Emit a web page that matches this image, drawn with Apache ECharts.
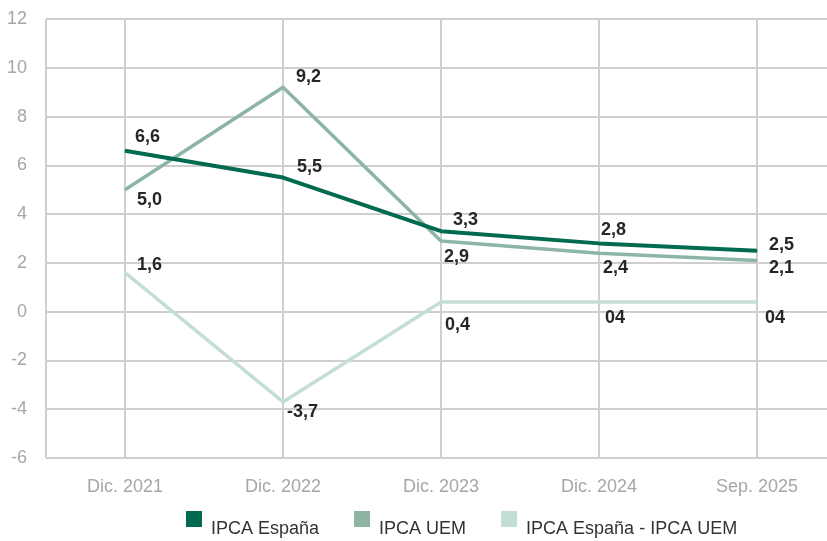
<!DOCTYPE html>
<html>
<head>
<meta charset="utf-8">
<script src="https://cdn.jsdelivr.net/npm/echarts@6/dist/echarts.min.js"></script>
<style>
  html, body { margin: 0; padding: 0; background: #ffffff; }
  #chart { width: 827px; height: 541px; }
</style>
</head>
<body>
<div id="chart"></div>
<script>
// ---- data ----
var categories = ['Dic. 2021', 'Dic. 2022', 'Dic. 2023', 'Dic. 2024', 'Sep. 2025'];
var seriesNames = ['IPCA España', 'IPCA UEM', 'IPCA España - IPCA UEM'];
var ipcaEspana = [6.6, 5.5, 3.3, 2.8, 2.5];
var ipcaUEM = [5.0, 9.2, 2.9, 2.4, 2.1];
var ipcaDiff = [1.6, -3.7, 0.4, 0.4, 0.4];
var labelsEspana = ['6,6', '5,5', '3,3', '2,8', '2,5'];
var labelsUEM = ['5,0', '9,2', '2,9', '2,4', '2,1'];
var labelsDiff = ['1,6', '-3,7', '0,4', '04', '04'];
var yTicks = [-6, -4, -2, 0, 2, 4, 6, 8, 10, 12];

// ---- styles (label offsets relative to points) ----
var offsetsEspana = [[10, -14], [14, -10], [12, -11], [2, -13], [12, -6]];
var offsetsUEM = [[12, 10], [13, -10], [3, 16], [4, 15], [12, 8]];
var offsetsDiff = [[12, -8], [4, 10], [4, 23], [6, 16], [8, 16]];
var colors = ['#006a4e', '#8cb5a4', '#c5ded4'];
var lineWidths = [4, 3.5, 3.5];

var FONT = '"Liberation Sans", Arial, sans-serif';
var GRID_COLOR = '#cfcfcf';

function buildSeries(idx, values, labels, offsets) {
  return {
    name: seriesNames[idx],
    type: 'line',
    data: values.map(function (v, i) {
      return { value: [i, v], label: { offset: offsets[i] } };
    }),
    symbol: 'circle',
    symbolSize: 1,
    showSymbol: true,
    itemStyle: { color: colors[idx] },
    lineStyle: { color: colors[idx], width: lineWidths[idx] },
    label: {
      show: true,
      position: 'inside',
      align: 'left',
      verticalAlign: 'middle',
      fontFamily: FONT,
      fontSize: 18,
      fontWeight: 'bold',
      color: '#262626',
      formatter: function (p) { return labels[p.dataIndex]; }
    },
    emphasis: { disabled: true },
    animation: false,
    z: 3 - idx
  };
}

var chart = echarts.init(document.getElementById('chart'), null, { renderer: 'canvas' });
chart.setOption({
  backgroundColor: '#ffffff',
  animation: false,
  grid: { left: 46, top: 19, right: -9, bottom: 83, containLabel: false, outerBoundsMode: 'none' },
  xAxis: {
    type: 'value',
    min: -0.5,
    max: 4.5,
    interval: 0.5,
    axisLine: { show: true, lineStyle: { color: GRID_COLOR, width: 2 } },
    axisTick: {
      show: true,
      length: 12,
      customValues: [-0.5, 0, 1, 2, 3, 4],
      lineStyle: { color: GRID_COLOR, width: 2 }
    },
    axisLabel: {
      customValues: [0, 1, 2, 3, 4],
      formatter: function (v) { return categories[Math.round(v)]; },
      fontFamily: FONT,
      fontSize: 18,
      color: '#a6a6a6',
      margin: 20
    },
    splitLine: { show: true, lineStyle: { color: GRID_COLOR, width: 2 } }
  },
  yAxis: {
    type: 'value',
    min: yTicks[0],
    max: yTicks[yTicks.length - 1],
    interval: 2,
    axisLine: { show: true, lineStyle: { color: GRID_COLOR, width: 2 } },
    axisTick: { show: true, length: 8, lineStyle: { color: GRID_COLOR, width: 2 } },
    axisLabel: {
      fontFamily: FONT,
      fontSize: 18,
      color: '#a6a6a6',
      margin: 19
    },
    splitLine: { show: true, lineStyle: { color: GRID_COLOR, width: 2 } }
  },
  legend: {
    data: seriesNames,
    left: 186,
    top: 511,
    padding: 0,
    icon: 'rect',
    itemWidth: 16,
    itemHeight: 16,
    itemGap: 35,
    selectedMode: false,
    formatter: function (name) { return '{t|' + name + '}'; },
    textStyle: {
      fontFamily: FONT,
      fontSize: 18,
      color: '#333333',
      rich: {
        t: {
          fontFamily: FONT,
          fontSize: 18,
          color: '#333333',
          padding: [20, 0, 0, 4]
        }
      }
    }
  },
  series: [
    buildSeries(0, ipcaEspana, labelsEspana, offsetsEspana),
    buildSeries(1, ipcaUEM, labelsUEM, offsetsUEM),
    buildSeries(2, ipcaDiff, labelsDiff, offsetsDiff)
  ]
});
</script>
</body>
</html>
